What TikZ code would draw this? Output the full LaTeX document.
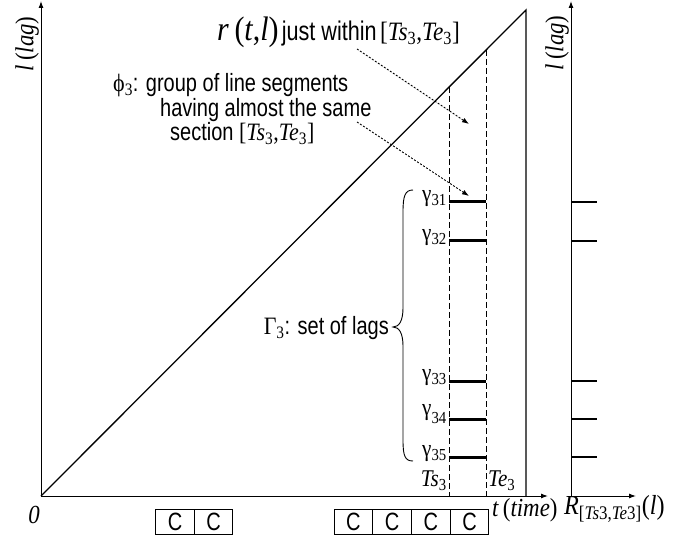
\documentclass[tikz,border=0pt]{standalone}
\usepackage{fontspec}
\newfontfamily\sansf[FakeStretch=0.8]{Liberation Sans}
\newfontfamily\tms[FakeStretch=0.88]{Liberation Serif}
\usetikzlibrary{arrows.meta}
\newcommand\mysub[1]{\textsubscript{#1}}
\newcommand\myit[1]{{\itshape #1}}
\begin{document}
\begin{tikzpicture}[x=1pt,y=-1pt,
 axis/.style={line width=1pt,-{Latex[length=7pt,width=5pt]}},
 sans/.style={font=\sansf\fontsize{25}{27}\selectfont, inner sep=0},
 philine/.style={sans, anchor=base west, text height=15pt, text depth=4pt},
 serif/.style={font=\tms\fontsize{24}{26}\selectfont, inner sep=0},
 bigserif/.style={font=\tms\fontsize{26}{28}\selectfont, inner sep=0},
 axlab/.style={font=\tms\fontsize{27.5}{29}\selectfont, inner sep=0},
 seg/.style={line width=3pt},
 tickmark/.style={line width=2pt},
 guide/.style={line width=1pt, dash pattern=on 6pt off 3pt},
 pointer/.style={line width=0.9pt, dash pattern=on 2pt off 1.6pt, -{Latex[length=7pt,width=5pt]}},
 cbox/.style={draw, line width=0.9pt, minimum width=38.6pt, minimum height=25pt, inner sep=0, font=\sansf\fontsize{25}{27}\selectfont}
]
\useasboundingbox (0,0) rectangle (694,540);
% main axes
\coordinate (O) at (41,496);
\coordinate (Ytop) at (41,1);
\coordinate (Xend) at (548,496);
\coordinate (A) at (526,10);
\coordinate (Abot) at (526,496);
\draw[axis] (O) -- (Ytop);
\draw[axis] (O) -- (Xend);
\draw[line width=1.3pt, line join=miter] (O) -- (A) -- (Abot);
% dashed section
\coordinate (S0) at (449,87);
\coordinate (S1) at (449,496);
\coordinate (E0) at (486,50);
\coordinate (E1) at (486,496);
\draw[guide] (S0) -- (S1);
\draw[guide] (E0) -- (E1);
% right axes
\coordinate (R0) at (571,496);
\coordinate (Rtop) at (571,1);
\coordinate (Rx) at (636,496);
\draw[axis] (R0) -- (Rtop);
\draw[axis] (R0) -- (Rx);
% segments and ticks
\foreach \n/\y in {1/202,2/241,3/381,4/419,5/457}{
  \coordinate (ga\n) at (449,\y);
  \coordinate (gb\n) at (486,\y);
  \coordinate (ta\n) at (571,\y);
  \coordinate (tb\n) at (597,\y);
  \draw[seg] (ga\n) -- (gb\n);
  \draw[tickmark] (ta\n) -- (tb\n);
}
% gamma labels
\node[serif, anchor=east] (lab1) at (447,199) {γ\mysub{31}};
\node[serif, anchor=east] (lab2) at (447,238) {γ\mysub{32}};
\node[serif, anchor=east] (lab3) at (447,378) {γ\mysub{33}};
\node[serif, anchor=east] (lab4) at (447,414) {γ\mysub{\raisebox{-0.3em}{34}}};
\node[serif, anchor=east] (lab5) at (447,454) {γ\mysub{35}};
% brace
\coordinate (B0) at (413,190);
\coordinate (B1) at (413,461);
\coordinate (Bm) at (393,327);
\draw[line width=0.9pt] (B0) .. controls (405,190) and (403,196) .. (403,212)
  -- (403,308) .. controls (403,321) and (399,327) .. (Bm)
  .. controls (399,327) and (403,333) .. (403,346)
  -- (403,440) .. controls (403,456) and (405,461) .. (B1);
\node[sans, anchor=east] (Gam) at (389,328) {{\tms Γ\mysub{3}}: set of lags};
% title texts
\node[anchor=base west, inner sep=0] (title) at (217,41) {{\tms\fontsize{34}{36}\selectfont\myit{r}\,(\myit{t},\myit{l})} {\sansf\fontsize{27}{29}\selectfont just within} {\tms\fontsize{26.5}{28}\selectfont[\myit{Ts}\mysub{3},\myit{Te}\mysub{3}]}};
\node[philine] (phi1) at (113,92) {{\tms ϕ\mysub{3}}: group of line segments};
\node[philine] (phi2) at (160,117) {having almost the same};
\node[philine] (phi3) at (170,141) {section {\tms[\myit{Ts}\mysub{3},\myit{Te}\mysub{3}]}};
% pointers
\coordinate (p1s) at (357,49);
\coordinate (p1e) at (469,124);
\coordinate (p2s) at (357,122);
\coordinate (p2e) at (469,196);
\draw[pointer] (p1s) -- (p1e);
\draw[pointer] (p2s) -- (p2e);
% axis labels
\node[bigserif, rotate=90] (ylab) at (27,44) {\myit{l}\,(\myit{lag})};
\node[bigserif, rotate=90] (ylab2) at (557,43) {\myit{l}\,(\myit{lag})};
\node[bigserif] (zero) at (34,515) {\myit{0}};
\node[bigserif, anchor=west] (tlab) at (492,510) {\myit{t}\,(\myit{time})};
\node[axlab, anchor=west] (Rlab) at (564,509) {\myit{R}\textsubscript{[\myit{Ts}3,\myit{Te}3]}(\myit{l})};
\node[serif, anchor=east] (Ts) at (447,481) {\myit{Ts}\mysub{3}};
\node[serif, anchor=west] (Te) at (488,481) {\myit{Te}\mysub{3}};
% C boxes
\node[cbox] (c1) at (175,521.5) {C};
\node[cbox] (c2) at (213.6,521.5) {C};
\node[cbox] (c3) at (353.4,521.5) {C};
\node[cbox] (c4) at (392.1,521.5) {C};
\node[cbox] (c5) at (430.8,521.5) {C};
\node[cbox] (c6) at (469.5,521.5) {C};
\end{tikzpicture}
\end{document}
